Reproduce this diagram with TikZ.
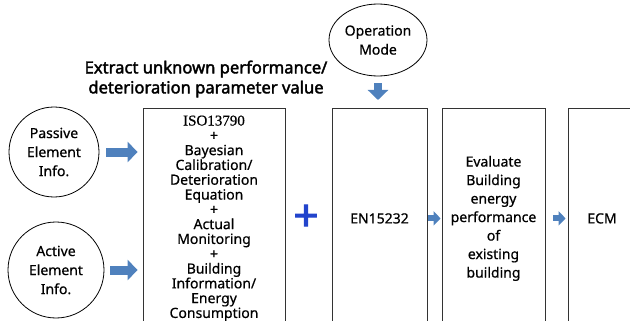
\documentclass[tikz,border=0pt]{standalone}
\usepackage{fontspec}
\setmainfont{Noto Sans}[FakeBold=0.6]
\newfontfamily\titlefont{Noto Sans}[FakeBold=2.2]
\newfontfamily\isofont{Liberation Serif}[FakeBold=0.6]
\usetikzlibrary{positioning,arrows.meta,shapes.geometric}
\definecolor{arrowblue}{RGB}{79,129,189}
\definecolor{plusblue}{RGB}{34,68,204}

\begin{document}
\begin{tikzpicture}[
  x=1pt,y=-1pt,
  element/.style={
    circle,
    draw,
    fill=white,
    inner sep=0pt,
    line width=.8pt,
    align=center,
    font=\fontsize{14}{19}\selectfont
  },
  stagebox/.style={
    rectangle,
    draw=black!80,
    line width=.8pt,
    anchor=north,
    minimum height=220pt,
    inner sep=0pt,
    align=center,
    font=\fontsize{14}{14.8}\selectfont
  },
  bigarrow/.style={draw=arrowblue,line width=9pt,-{Triangle[length=10pt,width=20pt]}},
  smallarrow/.style={draw=arrowblue,line width=6pt,-{Triangle[length=7pt,width=14pt]}}
]
  \useasboundingbox (0,0) rectangle (630,321);
  \clip (0,0) rectangle (630,321);

  \node[element,minimum size=90pt] (passive) at (54,152) {Passive\\Element\\Info.};
  \node[element,minimum size=96pt] (active) at (56,270) {Active\\Element\\Info.};
  \node[ellipse,draw,fill=white,line width=.8pt,inner sep=0pt,
        minimum width=98pt,minimum height=72pt,align=center,
        font=\fontsize{14}{19}\selectfont] (opmode) at (378,40) {Operation\\Mode};

  \node[align=center,font=\titlefont\fontsize{16.6}{20}\selectfont] (title) at (206,79)
    {Extract unknown performance/\\deterioration parameter value};

  \node[stagebox,minimum width=142pt] (iso) at (214,108)
    {{\isofont\fontsize{15}{14.8}\selectfont ISO13790}\\+\\Bayesian\\Calibration/\\Deterioration\\Equation\\+\\Actual\\Monitoring\\+\\Building\\Information/\\Energy\\Consumption};
  \node[stagebox,minimum width=95pt] (en) at (379.5,108) {EN15232};
  \node[stagebox,minimum width=103pt,font=\fontsize{14}{18.5}\selectfont] (eval) at (493.5,108)
    {Evaluate\\Building\\energy\\performance\\of\\existing\\building};
  \node[stagebox,minimum width=68pt] (ecm) at (602,108) {ECM};

  \node[text=plusblue,font=\titlefont\fontsize{44}{44}\selectfont] (plus) at (306,218) {+};

  \draw[bigarrow,shorten <=7pt,shorten >=5pt] (passive) -- (passive -| iso.west);
  \draw[bigarrow,shorten <=6pt,shorten >=5pt] (active) -- (active -| iso.west);
  \draw[bigarrow,line width=8pt,shorten <=7pt,shorten >=8pt] (opmode.south) -- (opmode.south |- en.north);
  \draw[smallarrow,shorten <=1pt,shorten >=1pt] (en) -- (eval);
  \draw[smallarrow,shorten <=8pt,shorten >=2pt] (eval) -- (ecm);
\end{tikzpicture}
\end{document}
